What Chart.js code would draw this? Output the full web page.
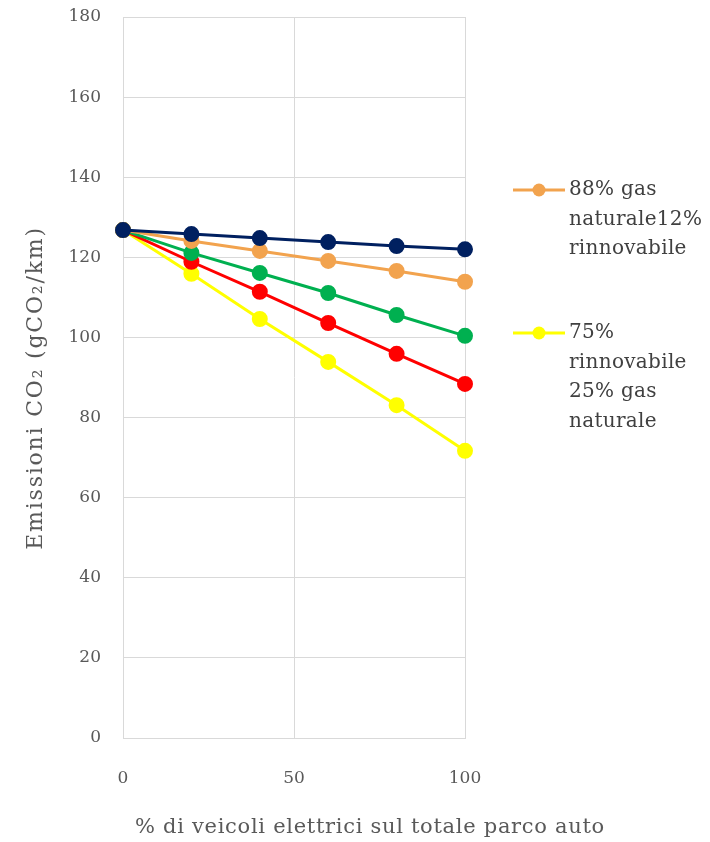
<!DOCTYPE html>
<html>
<head>
<meta charset="utf-8">
<script src="https://cdn.jsdelivr.net/npm/chart.js@4/dist/chart.umd.min.js"></script>
<style>
  html, body { margin: 0; padding: 0; background: #ffffff; }
  #wrap { width: 710px; height: 842px; }
</style>
</head>
<body>
<div id="wrap"><canvas id="c" width="710" height="842"></canvas></div>
<script>
// Share of electric vehicles in the car fleet (%)
const evShare = [0, 20, 40, 60, 80, 100];

// CO2 emissions (gCO2/km) per electricity-mix scenario
const mixA = [126.8, 125.8, 124.8, 123.8, 122.8, 122.0];
const gasRenew8812 = [126.8, 124.1, 121.6, 119.1, 116.6, 113.9];
const mixC = [126.8, 121.1, 116.1, 111.1, 105.6, 100.4];
const mixD = [126.8, 118.9, 111.4, 103.6, 95.9, 88.4];
const renewGas7525 = [126.8, 115.9, 104.6, 93.9, 83.1, 71.7];

// Legend text, one entry per line
const legendOrange = ['88% gas', 'naturale12%', 'rinnovabile'];
const legendYellow = ['75%', 'rinnovabile', '25% gas', 'naturale'];

const yTicks = [0, 20, 40, 60, 80, 100, 120, 140, 160, 180];
const xTicks = [0, 50, 100];

const yTitle = 'Emissioni CO\u2082 (gCO\u2082/km)';
const xTitle = '% di veicoli elettrici sul totale parco auto';

const FONT = '"DejaVu Serif", "Liberation Serif", serif';

function pts(arr) { return evShare.map((x, i) => ({ x: x, y: arr[i] })); }

function ds(label, data, color, legendLines) {
  return {
    label: label,
    legendLines: legendLines,
    data: pts(data),
    borderColor: color,
    backgroundColor: color,
    pointBackgroundColor: color,
    pointBorderColor: color,
    borderWidth: 3,
    pointRadius: 6.5,
    pointHoverRadius: 6.5,
    tension: 0,
    clip: false
  };
}

const datasets = [
  ds('', mixA, '#002060', null),
  ds(legendOrange.join(' '), gasRenew8812, '#F2A34E', legendOrange),
  ds('', mixC, '#00B050', null),
  ds('', mixD, '#FF0000', null),
  ds(legendYellow.join(' '), renewGas7525, '#FFFF00', legendYellow)
];

// Legend and axis titles drawn on the canvas
const sidePlugin = {
  id: 'sideText',
  afterDraw(chart) {
    const ctx = chart.ctx;
    ctx.save();

    // axis titles
    ctx.fillStyle = '#595959';
    ctx.textAlign = 'center';
    ctx.textBaseline = 'middle';
    ctx.font = '21px ' + FONT;
    ctx.letterSpacing = '0.7px';
    ctx.fillText(xTitle, 370, 828);
    ctx.save();
    ctx.translate(36, 388);
    ctx.rotate(-Math.PI / 2);
    ctx.font = '22px ' + FONT;
    ctx.letterSpacing = '1.8px';
    ctx.fillText(yTitle, 0, 0);
    ctx.restore();

    // legend entries
    const entries = chart.data.datasets.filter(d => d.legendLines);
    const startY = [190, 333];
    const lineH = 29.5;
    entries.forEach((d, i) => {
      const y = startY[i];
      ctx.strokeStyle = d.borderColor;
      ctx.lineWidth = 3;
      ctx.beginPath();
      ctx.moveTo(513, y);
      ctx.lineTo(565, y);
      ctx.stroke();
      ctx.fillStyle = d.borderColor;
      ctx.beginPath();
      ctx.arc(539, y, 6.5, 0, Math.PI * 2);
      ctx.fill();
      ctx.fillStyle = '#404040';
      ctx.font = '20px ' + FONT;
      ctx.letterSpacing = '0.3px';
      ctx.textAlign = 'left';
      ctx.textBaseline = 'middle';
      d.legendLines.forEach((t, k) => ctx.fillText(t, 569, y + k * lineH));
    });
    ctx.restore();
  }
};

new Chart(document.getElementById('c'), {
  type: 'line',
  data: { datasets: datasets },
  plugins: [sidePlugin],
  options: {
    responsive: false,
    animation: false,
    devicePixelRatio: 1,
    layout: { padding: { top: 17, right: 245, left: 0, bottom: 0 } },
    plugins: {
      legend: { display: false },
      tooltip: { enabled: false },
      title: { display: false }
    },
    scales: {
      x: {
        type: 'linear',
        min: 0,
        max: 100,
        afterBuildTicks(scale) { scale.ticks = xTicks.map(v => ({ value: v })); },
        afterFit(scale) { scale.height = 104; },
        grid: { color: '#d9d9d9', lineWidth: 1, drawTicks: false },
        border: { color: '#d9d9d9', width: 1 },
        ticks: {
          color: '#595959',
          font: { family: FONT, size: 17 },
          padding: 30,
          maxRotation: 0
        }
      },
      y: {
        type: 'linear',
        min: 0,
        max: 180,
        afterBuildTicks(scale) { scale.ticks = yTicks.map(v => ({ value: v })); },
        afterFit(scale) {
          scale.width = 123;
          scale.paddingTop = 0;
          scale.paddingBottom = 0;
        },
        grid: { color: '#d9d9d9', lineWidth: 1, drawTicks: false },
        border: { color: '#d9d9d9', width: 1 },
        ticks: {
          color: '#595959',
          font: { family: FONT, size: 17 },
          padding: 22
        }
      }
    }
  }
});
</script>
</body>
</html>
